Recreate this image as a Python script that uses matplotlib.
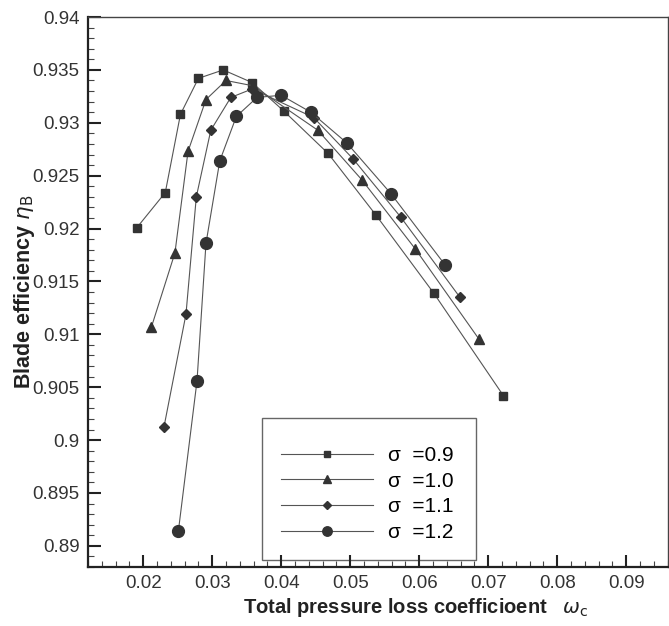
import matplotlib
matplotlib.use("Agg")
import matplotlib.pyplot as plt
from matplotlib.patches import Rectangle
from matplotlib.ticker import MultipleLocator


labels = ["\u03c3  =0.9", "\u03c3  =1.0", "\u03c3  =1.1", "\u03c3  =1.2"]

x_09 = [0.0191, 0.0232, 0.0254, 0.0280, 0.0316, 0.0358, 0.0404, 0.0468, 0.0537, 0.0621, 0.0722]
y_09 = [0.9201, 0.9234, 0.9308, 0.9342, 0.9350, 0.9338, 0.9311, 0.9271, 0.9213, 0.9139, 0.9042]

x_10 = [0.0212, 0.0246, 0.0265, 0.0291, 0.0320, 0.0359, 0.0453, 0.0517, 0.0594, 0.0686]
y_10 = [0.9107, 0.9177, 0.9273, 0.9322, 0.9340, 0.9335, 0.9293, 0.9246, 0.9181, 0.9096]

x_11 = [0.0230, 0.0262, 0.0277, 0.0298, 0.0327, 0.0358, 0.0447, 0.0504, 0.0573, 0.0659]
y_11 = [0.9012, 0.9119, 0.9230, 0.9293, 0.9324, 0.9332, 0.9305, 0.9266, 0.9211, 0.9135]

x_12 = [0.0251, 0.0278, 0.0291, 0.0311, 0.0335, 0.0365, 0.0400, 0.0443, 0.0495, 0.0559, 0.0637]
y_12 = [0.8914, 0.9056, 0.9186, 0.9264, 0.9306, 0.9324, 0.9326, 0.9310, 0.9281, 0.9233, 0.9166]

xticks = [0.02, 0.03, 0.04, 0.05, 0.06, 0.07, 0.08, 0.09]
yticks = [0.89, 0.895, 0.9, 0.905, 0.91, 0.915, 0.92, 0.925, 0.93, 0.935, 0.94]


def run():
    plt.rcParams['font.family'] = ['Liberation Sans', 'DejaVu Sans']

    fig = plt.figure(figsize=(6.69, 6.26), dpi=100)
    ax = fig.add_axes([0.1315, 0.0942, 0.8665, 0.8786])

    series = [(x_09, y_09, 's', 5.5), (x_10, y_10, '^', 6.5),
              (x_11, y_11, 'D', 5.2), (x_12, y_12, 'o', 8.5)]
    for (xs, ys, mk, ms), lab in zip(series, labels):
        ax.plot(xs, ys, color='#555555', lw=0.8, marker=mk, ms=ms,
                mfc='#333333', mec='#333333', label=lab)

    ax.set_xlim(0.012, 0.096)
    ax.set_ylim(0.888, 0.94)
    ax.set_xticks(xticks)
    ax.set_xticklabels([("%g" % t) for t in xticks])
    ax.set_yticks(yticks)
    ax.set_yticklabels([("%g" % t) for t in yticks])
    ax.xaxis.set_minor_locator(MultipleLocator(0.002))
    ax.yaxis.set_minor_locator(MultipleLocator(0.001))

    ax.tick_params(which='major', direction='in', length=9, width=1.5,
                   labelsize=13.5, labelcolor='#333333', color='#222222', pad=6)
    ax.tick_params(which='minor', direction='in', length=4.5, width=0.8,
                   color='#444444')
    for side in ['left', 'bottom']:
        ax.spines[side].set_linewidth(1.6)
        ax.spines[side].set_color('#222222')
    for side in ['top', 'right']:
        ax.spines[side].set_linewidth(1.0)
        ax.spines[side].set_color('#444444')

    ax.set_xlabel("Total pressure loss coefficioent   $\\omega_{\\rm c}$",
                  fontsize=14.5, fontweight='bold', color='#222222', va='top')
    ax.xaxis.set_label_coords(0.566, -0.052)
    ax.set_ylabel("Blade efficiency $\\eta_{\\rm B}$", fontsize=15.5,
                  fontweight='bold', color='#222222')
    ax.yaxis.set_label_coords(-0.088, 0.50)

    # legend box drawn separately so it can be sized like the original
    box = Rectangle((0.301, 0.0127), 0.368, 0.258, transform=ax.transAxes,
                    facecolor='white', edgecolor='#666666', lw=1.0, zorder=1)
    ax.add_patch(box)
    ax.legend(loc='center', bbox_to_anchor=(0.482, 0.133), frameon=False,
              fontsize=15, handlelength=4.4, handletextpad=0.7,
              labelspacing=0.32, borderpad=0.0, markerscale=0.8)

    fig.savefig("out.png", dpi=100)


if __name__ == '__main__':
    run()
